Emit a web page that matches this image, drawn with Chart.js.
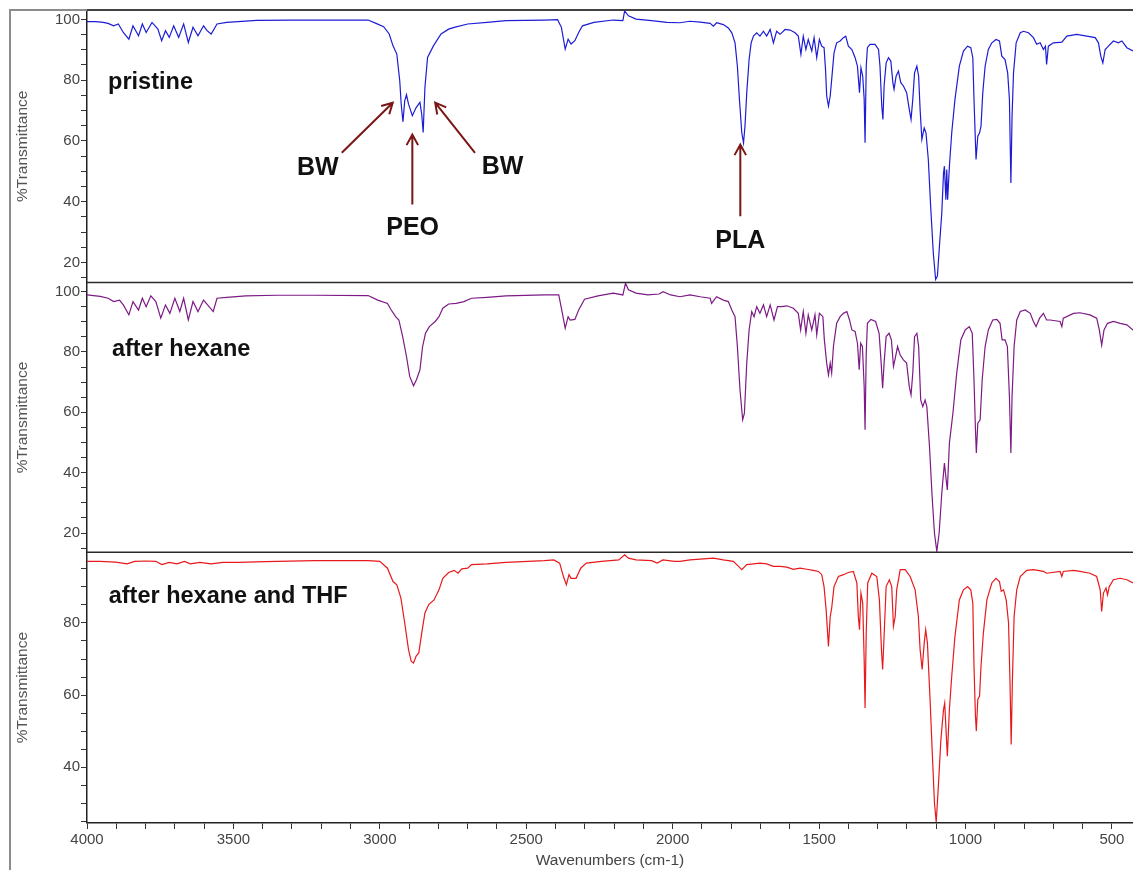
<!DOCTYPE html>
<html>
<head>
<meta charset="utf-8">
<script src="https://cdn.jsdelivr.net/npm/chart.js@4.4.1/dist/chart.umd.min.js"></script>
<style>
  html, body { margin: 0; padding: 0; background: #fff; }
  #wrap { position: relative; width: 1133px; height: 870px; }
</style>
</head>
<body>
<div id="wrap"><canvas id="ftir" width="1133" height="870"></canvas></div>
<script>
// FTIR spectra (wavenumber cm-1, %T)
const pristineWn = [4000, 3970, 3945, 3928, 3909, 3893, 3876, 3857, 3843, 3824, 3811, 3798, 3778, 3758, 3745, 3732, 3719, 3704, 3687, 3670, 3654, 3638, 3621, 3602, 3590, 3576, 3556, 3523, 3484, 3420, 3300, 3150, 3040, 3013, 2987, 2968, 2955, 2942, 2932, 2927, 2921, 2915, 2909, 2902, 2889, 2876, 2863, 2857, 2852, 2846, 2837, 2817, 2791, 2765, 2746, 2700, 2634, 2569, 2438, 2393, 2380, 2367, 2357, 2347, 2334, 2321, 2308, 2269, 2203, 2170, 2164, 2151, 2125, 2072, 2020, 1975,
  1941, 1906, 1872, 1861, 1850, 1827, 1810, 1798, 1787, 1779, 1772, 1764, 1758, 1753, 1747, 1739, 1732, 1724, 1713, 1702, 1690, 1679, 1667, 1656, 1645, 1633, 1616, 1599, 1582, 1571, 1562, 1554, 1545, 1537, 1525, 1517, 1508, 1499, 1491, 1483, 1478, 1474, 1468, 1462, 1457, 1449, 1440, 1428, 1417, 1409, 1400, 1388, 1377, 1369, 1362, 1357, 1351, 1346, 1343, 1339, 1335, 1326, 1309, 1297, 1292, 1286, 1282, 1278, 1271, 1263, 1255, 1248, 1244, 1237, 1229, 1221, 1212, 1201, 1192, 1186, 1180, 1174, 1166, 1160, 1155, 1149, 1141, 1135, 1127, 1119, 1110, 1102, 1096, 1089, 1081, 1075, 1072, 1067, 1064, 1061, 1055, 1047, 1036, 1021, 1007, 993, 982, 975, 971, 966, 964, 958, 952, 947, 941, 933, 922, 910, 896, 884, 876, 865, 856, 850, 845, 841, 836, 827, 813, 802, 785, 768, 757, 745, 734, 727, 723, 717, 700, 671, 654, 620, 586, 557, 546, 538, 531, 523, 512, 495, 478, 466, 449, 428];
const pristineT = [99.3, 99.3, 99.0, 98.7, 97.9, 98.5, 95.7, 93.5, 97.9, 94.6, 98.5, 95.7, 99.0, 96.8, 93.0, 96.3, 94.1, 97.9, 94.1, 98.5, 92.4, 97.4, 94.6, 97.9, 96.3, 95.2, 98.5, 99.0, 99.3, 99.7, 99.8, 99.8, 99.8, 98.7, 97.6, 95.2, 91.3, 88.6, 79.8, 72.1, 66.3, 73.2, 75.2, 72.1, 68.3, 71.0, 72.7, 68.8, 62.8, 77.6, 87.5, 91.3, 95.2, 96.8, 97.4, 98.5, 99.0, 99.6, 99.8, 99.9, 97.4, 90.2, 93.5, 91.9, 93.0, 95.7, 97.9, 99.0, 99.8, 99.6, 102.8, 101.2, 100.1, 99.6, 99.0, 98.9,
  99.4, 99.1, 98.7, 97.8, 98.9, 98.3, 97.2, 95.6, 92.3, 84.6, 73.7, 62.7, 59.4, 64.9, 75.9, 86.8, 92.3, 94.5, 95.6, 94.5, 96.1, 94.5, 96.7, 92.3, 96.1, 95.1, 96.7, 96.5, 95.6, 94.5, 88.5, 94.5, 90.1, 93.4, 89.6, 94.0, 87.4, 93.4, 91.2, 90.7, 83.5, 74.8, 71.5, 74.8, 80.2, 89.0, 92.3, 92.9, 94.0, 94.5, 91.2, 90.1, 87.4, 84.6, 75.9, 84.1, 81.3, 73.7, 59.4, 84.6, 90.7, 91.8, 91.8, 90.1, 84.6, 71.5, 67.1, 78.1, 85.7, 87.4, 86.3, 79.2, 77.0, 81.3, 83.0, 79.2, 78.1, 75.9, 70.4, 67.1, 73.7, 82.4, 84.6, 81.3, 70.4, 60.5, 64.3, 62.7, 53.9, 38.5, 23.2, 14.4, 15.5, 25.4, 36.3, 49.5, 51.7, 40.7, 50.6, 40.7, 51.7, 62.7, 73.7, 84.6, 89.6, 91.2, 90.7, 87.4, 73.7, 59.4, 53.9, 61.6, 62.7, 64.9, 75.9, 84.6, 90.1, 92.3, 93.4, 92.9, 87.9, 86.8, 82.4, 73.7, 46.2, 68.2, 82.4, 92.3, 95.6, 96.1, 95.6, 94.0, 91.8, 92.3, 90.1, 91.2, 85.2, 91.2, 92.3, 92.5, 94.5, 95.1, 94.5, 94.0, 92.3, 87.9, 85.7, 90.1, 91.2, 92.9, 92.3, 92.9, 90.7, 89.6];

const hexaneWn = [4000, 3955, 3928, 3909, 3889, 3876, 3857, 3843, 3824, 3811, 3798, 3782, 3765, 3748, 3732, 3717, 3700, 3683, 3670, 3654, 3638, 3621, 3602, 3569, 3556, 3523, 3458, 3353, 3223, 3040, 3007, 2974, 2961, 2946, 2935, 2922, 2909, 2898, 2885, 2875, 2863, 2854, 2844, 2831, 2811, 2798, 2785, 2765, 2739, 2713, 2687, 2634, 2569, 2438, 2389, 2380, 2367, 2357, 2350, 2334, 2321, 2301, 2255, 2203, 2170, 2161, 2151, 2125, 2085, 2046, 2033, 2007, 1975,
  1941, 1906, 1872, 1867, 1850, 1827, 1810, 1798, 1787, 1779, 1770, 1761, 1755, 1747, 1739, 1730, 1722, 1713, 1702, 1690, 1679, 1667, 1654, 1642, 1628, 1610, 1588, 1571, 1563, 1554, 1545, 1537, 1525, 1514, 1508, 1499, 1487, 1482, 1474, 1468, 1462, 1457, 1451, 1440, 1428, 1417, 1405, 1396, 1388, 1377, 1369, 1363, 1358, 1352, 1346, 1343, 1339, 1335, 1323, 1307, 1295, 1288, 1283, 1278, 1271, 1261, 1253, 1246, 1240, 1232, 1223, 1212, 1201, 1192, 1186, 1180, 1174, 1166, 1160, 1153, 1146, 1138, 1132, 1123, 1114, 1106, 1098, 1090, 1081, 1072, 1066, 1062, 1055, 1043, 1030, 1016, 1001, 987, 977, 971, 966, 963, 958, 950, 943, 933, 922, 907, 893, 882, 875, 865, 857, 850, 845, 841, 834, 825, 813, 796, 779, 768, 759, 747, 734, 723, 711, 677, 671, 666, 631, 609, 575, 552, 543, 535, 527, 515, 495, 472, 449, 428];
const hexaneT = [98.9, 98.4, 97.8, 96.7, 97.2, 95.6, 92.3, 96.7, 93.9, 97.8, 95.0, 98.6, 96.7, 91.2, 95.6, 92.8, 97.8, 93.4, 97.8, 90.6, 96.7, 93.4, 97.2, 93.4, 97.8, 98.1, 98.6, 98.8, 98.8, 98.7, 97.2, 96.1, 93.9, 91.7, 90.6, 85.1, 78.5, 71.9, 68.8, 70.8, 74.1, 81.8, 86.2, 88.4, 90.1, 91.7, 94.5, 95.9, 96.1, 96.7, 97.8, 98.1, 98.6, 98.9, 98.9, 94.5, 87.9, 91.7, 90.6, 90.8, 93.9, 97.5, 98.6, 99.5, 98.9, 102.8, 100.6, 99.5, 98.9, 99.2, 100.0, 98.9, 98.3,
  98.9, 98.3, 97.8, 96.1, 98.3, 97.2, 96.7, 93.9, 91.7, 81.8, 67.4, 57.5, 59.7, 76.3, 87.3, 93.4, 91.7, 95.0, 92.8, 95.6, 91.7, 95.6, 90.6, 95.0, 95.0, 95.3, 94.5, 92.8, 87.3, 93.4, 86.2, 92.3, 87.3, 92.3, 85.7, 92.8, 91.7, 84.0, 76.3, 72.4, 76.3, 73.0, 81.8, 89.5, 91.7, 92.8, 93.4, 90.6, 87.3, 86.8, 82.9, 74.1, 82.9, 81.8, 68.5, 54.2, 79.6, 89.5, 90.8, 90.1, 86.2, 76.3, 68.0, 76.3, 85.1, 86.2, 84.0, 75.2, 77.9, 81.8, 79.0, 77.4, 76.3, 68.5, 65.8, 73.0, 85.1, 86.2, 81.8, 64.1, 61.9, 64.1, 61.9, 48.7, 32.1, 20.0, 13.9, 20.0, 33.2, 43.2, 37.6, 34.3, 49.8, 59.7, 73.0, 84.0, 87.3, 88.4, 86.2, 70.8, 54.2, 46.5, 56.4, 57.5, 70.8, 81.8, 87.3, 90.6, 90.8, 89.5, 84.0, 84.0, 81.8, 65.2, 46.5, 65.2, 81.8, 90.6, 93.4, 93.9, 92.8, 90.1, 88.4, 91.2, 92.8, 90.6, 90.6, 90.1, 88.4, 91.2, 92.8, 93.0, 92.3, 91.2, 87.3, 82.3, 87.3, 89.5, 90.1, 89.5, 89.0, 87.3];

const thfWn = [4000, 3955, 3902, 3863, 3837, 3798, 3765, 3745, 3719, 3693, 3667, 3647, 3615, 3576, 3536, 3484, 3392, 3223, 3040, 3000, 2974, 2955, 2942, 2928, 2915, 2902, 2893, 2885, 2876, 2867, 2857, 2846, 2833, 2815, 2798, 2785, 2765, 2746, 2733, 2720, 2700, 2687, 2634, 2569, 2438, 2406, 2386, 2373, 2363, 2354, 2347, 2330, 2314, 2295, 2243, 2184, 2164, 2151, 2125, 2072, 2053, 2033, 1994, 1975,
  1941, 1906, 1861, 1827, 1793, 1775, 1764, 1747, 1724, 1702, 1679, 1656, 1633, 1610, 1588, 1565, 1542, 1520, 1502, 1491, 1483, 1476, 1468, 1462, 1457, 1449, 1434, 1417, 1400, 1383, 1371, 1366, 1362, 1357, 1351, 1346, 1343, 1339, 1334, 1320, 1303, 1294, 1287, 1283, 1278, 1271, 1260, 1252, 1246, 1240, 1235, 1223, 1206, 1189, 1172, 1161, 1155, 1148, 1141, 1136, 1130, 1121, 1113, 1106, 1100, 1092, 1084, 1075, 1071, 1066, 1062, 1055, 1047, 1036, 1021, 1007, 993, 982, 975, 971, 966, 963, 958, 952, 947, 939, 927, 910, 896, 884, 878, 870, 861, 853, 848, 844, 840, 834, 825, 813, 791, 768, 734, 723, 677, 671, 666, 631, 609, 575, 552, 540, 535, 529, 520, 515, 509, 495, 472, 449, 428];
const thfT = [97.1, 97.1, 96.9, 96.4, 97.1, 97.2, 97.1, 96.2, 96.8, 96.4, 97.1, 96.4, 96.8, 96.4, 96.8, 96.8, 97.0, 97.3, 97.3, 97.1, 95.2, 91.5, 90.6, 86.9, 80.0, 72.6, 69.4, 68.9, 70.8, 71.7, 77.2, 82.8, 85.1, 86.4, 89.2, 92.4, 94.0, 94.6, 93.8, 95.0, 95.2, 96.2, 96.4, 96.8, 97.3, 97.5, 96.6, 92.9, 90.6, 93.4, 92.4, 92.4, 95.2, 96.6, 97.1, 97.5, 98.9, 98.0, 97.5, 97.3, 96.6, 97.5, 97.1, 97.1,
  97.5, 97.7, 98.0, 97.5, 97.1, 95.7, 94.8, 96.2, 96.4, 96.6, 96.4, 95.7, 95.7, 95.5, 94.9, 95.2, 94.9, 94.6, 94.3, 93.4, 90.1, 83.7, 73.5, 81.8, 84.1, 90.1, 92.9, 93.4, 94.0, 94.3, 91.1, 81.8, 78.1, 88.3, 85.5, 69.8, 56.4, 77.2, 91.1, 93.8, 92.9, 86.4, 72.6, 67.1, 76.3, 90.1, 92.0, 90.1, 79.1, 81.8, 89.2, 94.8, 94.8, 92.9, 89.2, 81.8, 72.6, 67.1, 74.4, 78.1, 74.4, 58.8, 43.0, 30.1, 24.7, 35.7, 47.7, 56.0, 57.8, 49.5, 43.0, 56.0, 65.2, 76.3, 86.4, 89.2, 90.1, 89.2, 85.5, 68.0, 54.1, 50.0, 58.8, 59.7, 68.0, 77.2, 86.4, 91.1, 92.4, 91.5, 88.8, 89.2, 86.4, 80.0, 63.4, 46.3, 63.4, 81.8, 89.2, 92.9, 94.6, 94.8, 94.3, 93.8, 94.3, 92.9, 94.3, 94.6, 94.3, 93.8, 92.9, 89.2, 83.2, 88.3, 89.7, 87.8, 90.1, 92.0, 92.4, 92.0, 91.1];

const sampleNames = ['pristine', 'after hexane', 'after hexane and THF'];
const sampleColors = ['#1c1cd6', '#7d1a85', '#e8191c'];
const panelRanges = [[13.4, 103.1], [13.6, 103.0], [24.5, 99.6]];
const panelWeights = [272.5, 269.7, 270.6];
const xTickRange = [428, 4000];

// band assignments on the pristine spectrum: label, label position, arrow tail, arrow tip
const bandLabels = ['BW', 'PEO', 'BW', 'PLA'];
const bandLabelPos = [[3212, 51.2], [2888, 31.4], [2581, 51.5], [1769, 27.0]];
const bandArrowFrom = [[3130, 56.1], [2889, 39.1], [2675, 56.1], [1769, 35.2]];
const bandArrowTo = [[2956, 72.6], [2889, 62.1], [2811, 72.6], [1769, 58.8]];
// sample name positions in each panel (left edge)
const namePos = [[3928, 79.3], [3915, 80.7], [3926, 87.4]];

const FONT = '"Liberation Sans", Arial, sans-serif';
const toPts = (wn, t) => wn.map((w, i) => ({ x: w, y: t[i] }));
const series = [toPts(pristineWn, pristineT), toPts(hexaneWn, hexaneT), toPts(thfWn, thfT)];
const yIds = ['y1', 'y2', 'y3'];

function yScale(i) {
  return {
    type: 'linear',
    position: 'left',
    stack: 'panels',
    stackWeight: panelWeights[i],
    weight: 3 - i,
    min: panelRanges[i][0],
    max: panelRanges[i][1],
    border: { display: true, color: '#222', width: 1.5 },
    grid: { drawOnChartArea: false, tickLength: 6, color: '#333' },
    ticks: {
      stepSize: 5, autoSkip: false, includeBounds: false, padding: 1,
      color: '#444', font: { family: FONT, size: 15 },
      callback: v => (Math.round(v) % 20 === 0 ? Math.round(v) : '')
    },
    title: {
      display: true, text: '%Transmittance', color: '#555',
      font: { family: FONT, size: 15.5 }, padding: { top: 13, bottom: 0 }
    },
    afterFit: s => { s.width = 87; }
  };
}

const scales = {
  x: {
    type: 'linear',
    reverse: true,
    min: xTickRange[0],
    max: xTickRange[1],
    border: { display: true, color: '#222', width: 1.5 },
    grid: { drawOnChartArea: false, tickLength: 6, color: '#333' },
    ticks: {
      stepSize: 100, autoSkip: false, includeBounds: false, maxRotation: 0, padding: 2,
      color: '#444', font: { family: FONT, size: 15 },
      callback: v => (v % 500 === 0 ? v : '')
    },
    title: {
      display: true, text: 'Wavenumbers (cm-1)', color: '#444',
      font: { family: FONT, size: 15.5 }, padding: { top: 0, bottom: 0 }
    },
    afterFit: s => { s.height = 47; }
  }
};
yIds.forEach((id, i) => { scales[id] = yScale(i); });

function arrow(ctx, x0, y0, x1, y1) {
  const a = Math.atan2(y1 - y0, x1 - x0), L = 12, h = 0.5;
  ctx.beginPath();
  ctx.moveTo(x0, y0); ctx.lineTo(x1, y1);
  ctx.moveTo(x1 - L * Math.cos(a - h), y1 - L * Math.sin(a - h));
  ctx.lineTo(x1, y1);
  ctx.lineTo(x1 - L * Math.cos(a + h), y1 - L * Math.sin(a + h));
  ctx.stroke();
}

const decor = {
  id: 'decor',
  afterDraw(chart) {
    const { ctx, chartArea, scales: sc } = chart;
    const x = sc.x;
    ctx.save();
    // outer frame
    ctx.strokeStyle = '#8c8c8c';
    ctx.lineWidth = 2;
    ctx.beginPath();
    ctx.moveTo(10, 880); ctx.lineTo(10, 10); ctx.lineTo(1140, 10);
    ctx.stroke();
    // panel borders
    ctx.strokeStyle = '#2a2a2a';
    ctx.lineWidth = 1.5;
    yIds.forEach(id => {
      ctx.beginPath();
      ctx.moveTo(chartArea.left, sc[id].top);
      ctx.lineTo(chartArea.right + 2, sc[id].top);
      ctx.stroke();
    });
    // sample names
    ctx.fillStyle = '#111';
    ctx.font = 'bold 23.5px ' + FONT;
    ctx.textAlign = 'left';
    ctx.textBaseline = 'middle';
    sampleNames.forEach((n, i) => {
      ctx.fillText(n, x.getPixelForValue(namePos[i][0]), sc[yIds[i]].getPixelForValue(namePos[i][1]));
    });
    // band assignments
    const y1 = sc.y1;
    ctx.strokeStyle = '#7a1616';
    ctx.lineWidth = 2;
    bandLabels.forEach((lab, i) => {
      arrow(ctx,
        x.getPixelForValue(bandArrowFrom[i][0]), y1.getPixelForValue(bandArrowFrom[i][1]),
        x.getPixelForValue(bandArrowTo[i][0]), y1.getPixelForValue(bandArrowTo[i][1]));
    });
    ctx.font = 'bold 25px ' + FONT;
    ctx.textAlign = 'center';
    bandLabels.forEach((lab, i) => {
      ctx.fillText(lab, x.getPixelForValue(bandLabelPos[i][0]), y1.getPixelForValue(bandLabelPos[i][1]));
    });
    ctx.restore();
  }
};

new Chart(document.getElementById('ftir'), {
  type: 'line',
  data: {
    datasets: series.map((pts, i) => ({
      label: sampleNames[i],
      data: pts,
      yAxisID: yIds[i],
      borderColor: sampleColors[i],
      borderWidth: 1.2,
      pointRadius: 0,
      tension: 0,
      fill: false
    }))
  },
  options: {
    responsive: false,
    animation: false,
    layout: { padding: { top: 10, left: 0, right: 0, bottom: 0 } },
    plugins: { legend: { display: false }, tooltip: { enabled: false } },
    scales
  },
  plugins: [decor]
});
</script>
</body>
</html>
